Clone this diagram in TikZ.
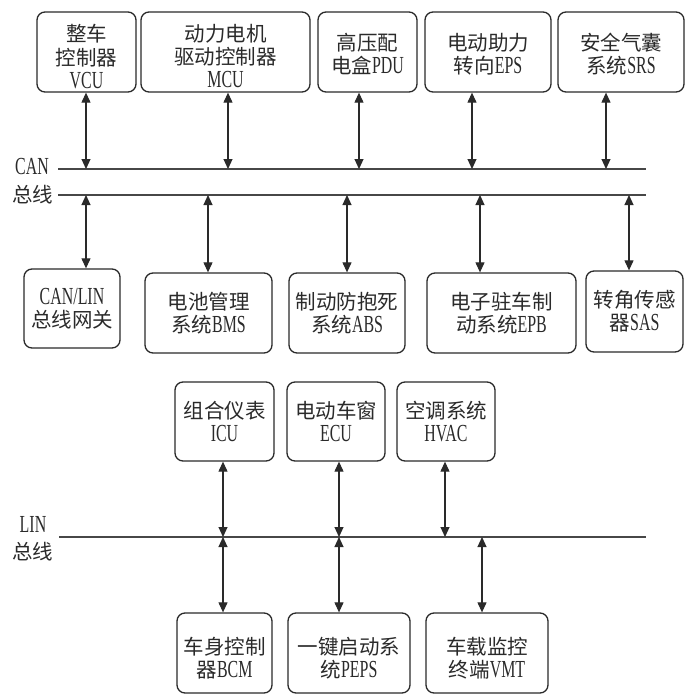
\documentclass[tikz,border=0pt]{standalone}
\usepackage{fontspec}
\setmainfont{Liberation Serif}[FakeStretch=0.65]
\newfontfamily\zhfont{Noto Sans CJK SC}
\newcommand\zh[1]{{\zhfont\fontsize{20.5}{23}\selectfont #1}}
\usetikzlibrary{arrows.meta}
\definecolor{ink}{HTML}{2A2A2A}
\definecolor{busc}{HTML}{474747}
\tikzset{
  box/.style={draw=ink, line width=1.3pt, rounded corners=8pt, inner sep=0pt,
    align=center, text=ink, font=\fontsize{24.5}{23}\selectfont},
  arr/.style={{Triangle[length=10pt,width=9pt]}-{Triangle[length=10pt,width=9pt]},
    draw=ink, line width=1.1pt},
  bus/.style={draw=busc, line width=1.5pt},
  lbl/.style={text=ink, inner sep=0pt, font=\fontsize{24.5}{23}\selectfont}
}
\begin{document}
\begin{tikzpicture}[x=1pt,y=-1pt]
\useasboundingbox (0,0) rectangle (687,699);
% bus coordinates
\coordinate (canA0) at (58,169);
\coordinate (canA1) at (646,169);
\coordinate (canB0) at (58,195);
\coordinate (canB1) at (646,195);
\coordinate (lin0) at (59,537);
\coordinate (lin1) at (646,537);
\draw[bus] (canA0) -- (canA1);
\draw[bus] (canB0) -- (canB1);
\draw[bus] (lin0) -- (lin1);
% labels
\node[lbl] (canlbl) at (32,167) {CAN};
\node[lbl] (canzx) at (33,195) {\zh{总线}};
\node[lbl] (linlbl) at (33,524) {LIN};
\node[lbl] (linzx) at (33,552) {\zh{总线}};
% top row
\node[box, minimum width=99pt, minimum height=80pt] (vcu) at (86.5,52)
  {\rule{0pt}{26pt}\zh{整车}\\[1pt]\zh{控制器}\\[0pt]VCU};
\node[box, minimum width=169pt, minimum height=80pt] (mcu) at (225.5,52)
  {\rule{0pt}{26pt}\zh{动力电机}\\[0pt]\zh{驱动控制器}\\[0pt]MCU};
\node[box, minimum width=99pt, minimum height=80pt] (pdu) at (367.5,52)
  {\rule{0pt}{21pt}\zh{高压配}\\\zh{电盒}PDU};
\node[box, minimum width=126pt, minimum height=80pt] (eps) at (488,52)
  {\rule{0pt}{21pt}\zh{电动助力}\\\zh{转向}EPS};
\node[box, minimum width=126pt, minimum height=80pt] (srs) at (621,52)
  {\rule{0pt}{21pt}\zh{安全气囊}\\\zh{系统}SRS};
% middle row
\node[box, minimum width=96pt, minimum height=79pt] (gw) at (72,308.5)
  {CAN/LIN\\\zh{总线网关}};
\node[box, minimum width=127pt, minimum height=80pt] (bms) at (208.5,313)
  {\zh{电池管理}\\\zh{系统}BMS};
\node[box, minimum width=116pt, minimum height=80pt] (abs) at (347,313)
  {\zh{制动防抱死}\\\zh{系统}ABS};
\node[box, minimum width=149pt, minimum height=80pt] (epb) at (501.5,313)
  {\zh{电子驻车制}\\\zh{动系统}EPB};
\node[box, minimum width=97pt, minimum height=81pt] (sas) at (634.5,311.5)
  {\zh{转角传感}\\\zh{器}SAS};
% lower top row
\node[box, minimum width=99pt, minimum height=79pt] (icu) at (224.5,421.5)
  {\zh{组合仪表}\\ICU};
\node[box, minimum width=98pt, minimum height=79pt] (ecu) at (336,421.5)
  {\zh{电动车窗}\\ECU};
\node[box, minimum width=98pt, minimum height=79pt] (hvac) at (446,421.5)
  {\zh{空调系统}\\HVAC};
% lower bottom row
\node[box, minimum width=95pt, minimum height=80pt] (bcm) at (224.5,653)
  {\rule{0pt}{27pt}\zh{车身控制}\\\zh{器}BCM};
\node[box, minimum width=122pt, minimum height=80pt] (peps) at (349,653)
  {\rule{0pt}{27pt}\zh{一键启动系}\\\zh{统}PEPS};
\node[box, minimum width=122pt, minimum height=80pt] (vmt) at (487,653)
  {\rule{0pt}{27pt}\zh{车载监控}\\\zh{终端}VMT};
% arrows top
\draw[arr] ([xshift=-0.5pt]vcu.south) -- ([xshift=-0.5pt]vcu.south |- canA0);
\draw[arr] ([xshift=2.5pt]mcu.south) -- ([xshift=2.5pt]mcu.south |- canA0);
\draw[arr] ([xshift=-8.5pt]pdu.south) -- ([xshift=-8.5pt]pdu.south |- canA0);
\draw[arr] ([xshift=-16pt]eps.south) -- ([xshift=-16pt]eps.south |- canA0);
\draw[arr] ([xshift=-15pt]srs.south) -- ([xshift=-15pt]srs.south |- canA0);
% arrows middle
\draw[arr] ([xshift=14pt]gw.north |- canB0) -- ([xshift=14pt]gw.north);
\draw[arr] ([xshift=-0.5pt]bms.north |- canB0) -- ([xshift=-0.5pt]bms.north);
\draw[arr] (abs.north |- canB0) -- (abs.north);
\draw[arr] ([xshift=-21.5pt]epb.north |- canB0) -- ([xshift=-21.5pt]epb.north);
\draw[arr] ([xshift=-5.5pt]sas.north |- canB0) -- ([xshift=-5.5pt]sas.north);
% arrows LIN
\draw[arr] ([xshift=-1.5pt]icu.south) -- ([xshift=-1.5pt]icu.south |- lin0);
\draw[arr] ([xshift=3pt]ecu.south) -- ([xshift=3pt]ecu.south |- lin0);
\draw[arr] ([xshift=-1pt]hvac.south) -- ([xshift=-1pt]hvac.south |- lin0);
\draw[arr] ([xshift=-1.5pt]bcm.north |- lin0) -- ([xshift=-1.5pt]bcm.north);
\draw[arr] ([xshift=-10pt]peps.north |- lin0) -- ([xshift=-10pt]peps.north);
\draw[arr] ([xshift=-5pt]vmt.north |- lin0) -- ([xshift=-5pt]vmt.north);
\end{tikzpicture}
\end{document}
